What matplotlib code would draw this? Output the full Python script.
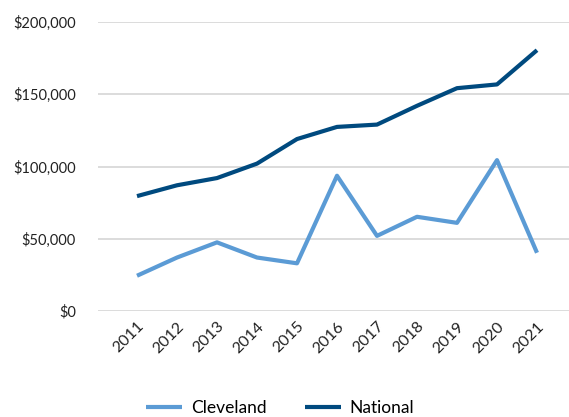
import matplotlib.pyplot as plt
from matplotlib.ticker import FuncFormatter

plt.rcParams['font.family'] = ['Lato', 'DejaVu Sans']

years = ['2011', '2012', '2013', '2014', '2015', '2016', '2017', '2018', '2019', '2020', '2021']
cleveland = [24400, 37000, 47500, 37000, 33000, 93600, 52000, 65200, 61000, 104400, 40300]
national = [79500, 87000, 92000, 102000, 119000, 127400, 129000, 142000, 154200, 156800, 180500]

fig = plt.figure(figsize=(5.69, 4.17), dpi=100)
ax = fig.add_axes([98 / 569, 1 - 311 / 417, 471 / 569, 289 / 417])

x = list(range(len(years)))
ax.plot(x, cleveland, color='#5B9BD5', lw=3, label='Cleveland', solid_capstyle='butt')
ax.plot(x, national, color='#004A7F', lw=3, label='National', solid_capstyle='butt')

ax.set_ylim(0, 200000)
ax.set_xlim(-0.975, 10.8)
ax.set_yticks([0, 50000, 100000, 150000, 200000])
ax.yaxis.set_major_formatter(FuncFormatter(lambda v, p: '${:,.0f}'.format(v)))
ax.set_xticks(x)
ax.set_xticklabels(years, rotation=45, ha='right', rotation_mode='anchor')
ax.tick_params(axis='both', length=0, colors='#222222')
ax.tick_params(axis='y', labelsize=10.5, pad=16)
ax.tick_params(axis='x', labelsize=11.5, pad=6)
ax.grid(axis='y', color='#D9D9D9', lw=1.3)
ax.set_axisbelow(True)
for s in ax.spines.values():
    s.set_visible(False)

fig.legend(loc='center', bbox_to_anchor=(280 / 569, 1 - 408 / 417), ncol=2, frameon=False,
           fontsize=12.5, handlelength=2.1, handletextpad=0.5, columnspacing=2.2)

fig.savefig('out.png', dpi=100)
